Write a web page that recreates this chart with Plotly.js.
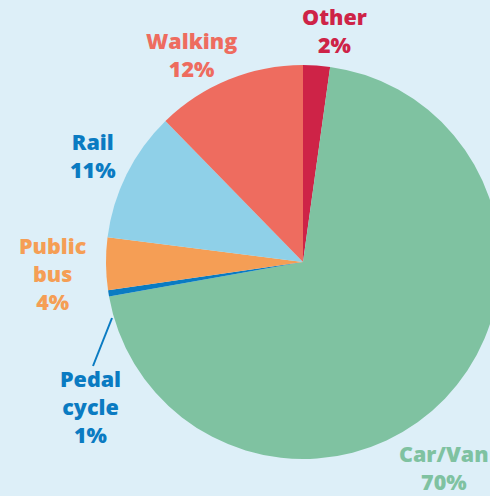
<!DOCTYPE html>
<html>
<head>
<meta charset="utf-8">
<script src="https://cdn.plot.ly/plotly-3.0.1.min.js"></script>
<style>
html,body{margin:0;padding:0;background:#DDEFF8;overflow:hidden;width:490px;height:496px;}
#chart{width:520px;height:496px;}
</style>
</head>
<body>
<div id="chart"></div>
<script>
// Data
const categories = ["Other", "Car/Van", "Pedal cycle", "Public bus", "Rail", "Walking"];
const values = [2.2, 70.0, 0.5, 4.3, 10.7, 12.3];
const labelTexts = ["Other<br>2%", "Car/Van<br>70%", "Pedal<br>cycle<br>1%", "Public<br>bus<br>4%", "Rail<br>11%", "Walking<br>12%"];
const colors = ["#CE2347", "#7FC2A1", "#0A7BC2", "#F59E55", "#8FD0E8", "#EE6C5F"];
const textColors = ["#CE2347", "#7FC2A1", "#0A7BC2", "#F59E55", "#0A7BC2", "#EE6C5F"];

const W = 520, H = 496;
// label anchor positions in pixels (layout only)
const labelPos = [[334, 30], [444, 467], [90, 406], [53, 273], [93, 156], [191, 54]];

const annotations = categories.map((c, i) => ({
  text: labelTexts[i],
  x: labelPos[i][0] / W,
  y: 1 - labelPos[i][1] / H,
  xref: "paper", yref: "paper",
  xanchor: "center", yanchor: "middle",
  showarrow: false,
  align: "center",
  font: {family: "Open Sans, sans-serif", size: 21.5, weight: 800, color: textColors[i]}
}));

const trace = {
  type: "pie",
  labels: categories,
  values: values,
  sort: false,
  direction: "clockwise",
  rotation: 0,
  textinfo: "none",
  hoverinfo: "label+percent",
  marker: {colors: colors, line: {width: 0}},
  domain: {x: [106 / W, 500 / W], y: [(H - 459) / H, (H - 65) / H]},
  showlegend: false
};

const layout = {
  width: W, height: H,
  margin: {l: 0, r: 0, t: 0, b: 0},
  paper_bgcolor: "#DDEFF8",
  plot_bgcolor: "#DDEFF8",
  annotations: annotations,
  shapes: [{
    type: "line", xref: "paper", yref: "paper",
    x0: 112 / W, y0: 1 - 318 / H, x1: 93 / W, y1: 1 - 366 / H,
    line: {color: "#0A7BC2", width: 2}
  }]
};

Plotly.newPlot("chart", [trace], layout, {displayModeBar: false, staticPlot: true});
</script>
</body>
</html>
